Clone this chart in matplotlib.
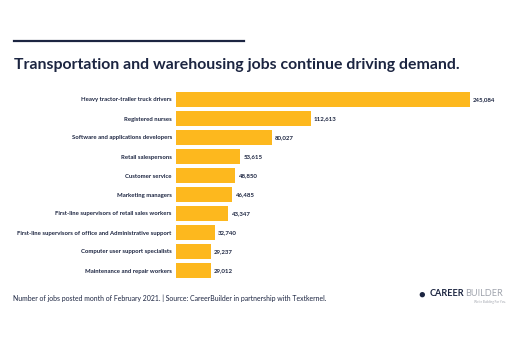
import matplotlib
matplotlib.use("Agg")
import matplotlib.pyplot as plt

categories = [
    "Heavy tractor-trailer truck drivers",
    "Registered nurses",
    "Software and applications developers",
    "Retail salespersons",
    "Customer service",
    "Marketing managers",
    "First-line supervisors of retail sales workers",
    "First-line supervisors of office and Administrative support",
    "Computer user support specialists",
    "Maintenance and repair workers",
]
values = [245084, 112613, 80027, 53615, 48850, 46485, 43347, 32740, 29237, 29012]

navy = "#1c2541"
bar_color = "#FDB81E"

plt.rcParams['font.family'] = ['Lato', 'DejaVu Sans']

fig = plt.figure(figsize=(5.15, 3.44), dpi=100)
ax = fig.add_axes([176/515, 1 - 280/344, (470-176)/515 / (245084/262000), (280-90)/344])
ax.set_xlim(0, 262000)
y = list(range(len(categories)))
ax.barh(y, values, height=0.78, color=bar_color, edgecolor="none")
ax.set_ylim(len(categories) - 0.5, -0.5)
ax.set_yticks(y)
ax.set_yticklabels(categories, fontsize=4.3, fontweight='bold', color=navy)
ax.tick_params(axis='y', length=0, pad=3)
ax.set_xticks([])
for s in ax.spines.values():
    s.set_visible(False)
for yi, v in zip(y, values):
    ax.text(v + 2500, yi, f"{v:,}", va='center', ha='left', fontsize=4.4,
            fontweight='bold', color=navy)

# top rule
fig.add_artist(plt.Line2D([14/515, 244/515], [1 - 41/344, 1 - 41/344],
                          color=navy, linewidth=1.6))
fig.text(14/515, 1 - 64.5/344, "Transportation and warehousing jobs continue driving demand.",
         fontsize=11.45, fontweight='bold', color=navy, va='center', ha='left')
fig.text(13/515, 1 - 298/344,
         "Number of jobs posted month of February 2021. | Source: CareerBuilder in partnership with Textkernel.",
         fontsize=4.95, color=navy, va='center', ha='left')
# logo text
t1 = fig.text(430/515, 1 - 294/344, "CAREER", fontsize=6.6, fontweight='bold', color=navy,
              va='center', ha='left')
fig.text(465/515, 1 - 294/344, "BUILDER", fontsize=6.6, color="#a0a4ad",
         va='center', ha='left')
fig.text(506/515, 1 - 302.5/344, "We're Building For You.", fontsize=2.2, color="#a0a4ad",
         va='center', ha='right')
fig.text(418/515, 1 - 294/344, "\u25CF", fontsize=8, color=navy, va='center', ha='left')

fig.savefig("out.png", dpi=100)
